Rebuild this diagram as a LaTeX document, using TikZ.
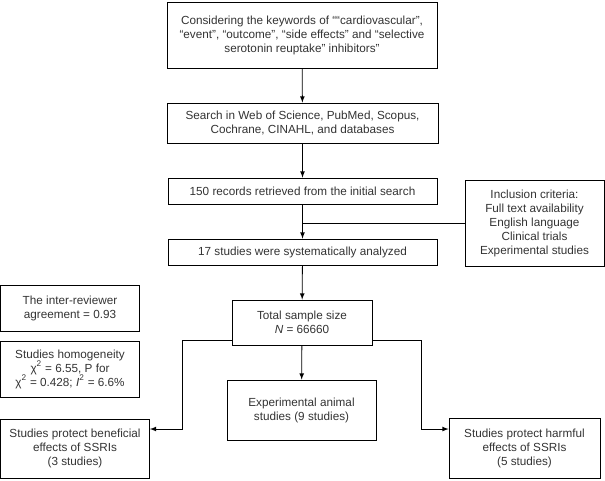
\documentclass[tikz,border=0pt]{standalone}
\usepackage{fontspec}
\setmainfont{Liberation Sans}
\usepackage{tikz}
\usetikzlibrary{arrows}
\definecolor{ink}{HTML}{333333}

\begin{document}
\begin{tikzpicture}[x = .75pt, y = -.75pt,
    box/.style = {draw, line width = .6pt, align = center, inner sep = 0pt, text = ink, font = \fontsize{8.8}{10.5}\selectfont},
    arr/.style = {-latex, line width = .6pt},
    link/.style = {line width = .6pt}]
    \useasboundingbox (0,0) rectangle (605,480);
    \node[box, minimum width = 202.5pt, minimum height = 49.5pt] (keywords) at (302,35) {Considering the keywords of ““cardiovascular”,\\“event”, “outcome”, “side effects” and “selective\\serotonin reuptake” inhibitors”};
    \node[box, minimum width = 203.25pt, minimum height = 30pt] (search) at (302.5,123) {Search in Web of Science, PubMed, Scopus,\\Cochrane, CINAHL, and databases};
    \node[box, minimum width = 201.75pt, minimum height = 19.5pt] (records) at (302.5,191) {150 records retrieved from the initial search};
    \node[box, minimum width = 104.25pt, minimum height = 64.5pt] (inclusion) at (534.5,223) {Inclusion criteria:\\Full text availability\\English language\\Clinical trials\\Experimental studies};
    \node[box, minimum width = 201.75pt, minimum height = 19.5pt] (analyzed) at (302.5,252) {17 studies were systematically analyzed};
    \node[box, minimum width = 104.25pt, minimum height = 34.5pt] (agreement) at (70,308) {The inter-reviewer\\agreement = 0.93};
    \node[box, minimum width = 104.25pt, minimum height = 42pt] (homogeneity) at (70,369) {Studies homogeneity\\χ\textsuperscript{2} = 6.55, P for\\χ\textsuperscript{2} = 0.428; \textit{I}\textsuperscript{2} = 6.6\%};
    \node[box, minimum width = 105pt, minimum height = 33.75pt] (total) at (302,322.5) {Total sample size\\\textit{N} = 66660};
    \node[box, minimum width = 111.75pt, minimum height = 45pt] (animal) at (301.5,410) {Experimental animal\\studies (9 studies)};
    \node[box, minimum width = 111.75pt, minimum height = 44.25pt] (beneficial) at (75,448.5) {Studies protect beneficial\\effects of SSRIs\\(3 studies)};
    \node[box, minimum width = 113.25pt, minimum height = 45pt] (harmful) at (524.5,448) {Studies protect harmful\\effects of SSRIs\\(5 studies)};
    \draw[arr] (keywords) -- (search);
    \draw[arr] (search) -- (records);
    \draw[arr] (records) -- (analyzed);
    \draw[link] (records.south |- inclusion.west) -- (inclusion.west);
    \draw[arr] (analyzed) -- (total);
    \draw[arr] (total) -- (animal);
    \coordinate (lefttap) at (232,340);
    \coordinate (leftturn) at (182,429);
    \draw[arr] (lefttap) -| (leftturn) -- (leftturn -| beneficial.east);
    \coordinate (righttap) at (372,340);
    \coordinate (rightturn) at (421,429);
    \draw[arr] (righttap) -| (rightturn) -- (rightturn -| harmful.west);
\end{tikzpicture}
\end{document}
